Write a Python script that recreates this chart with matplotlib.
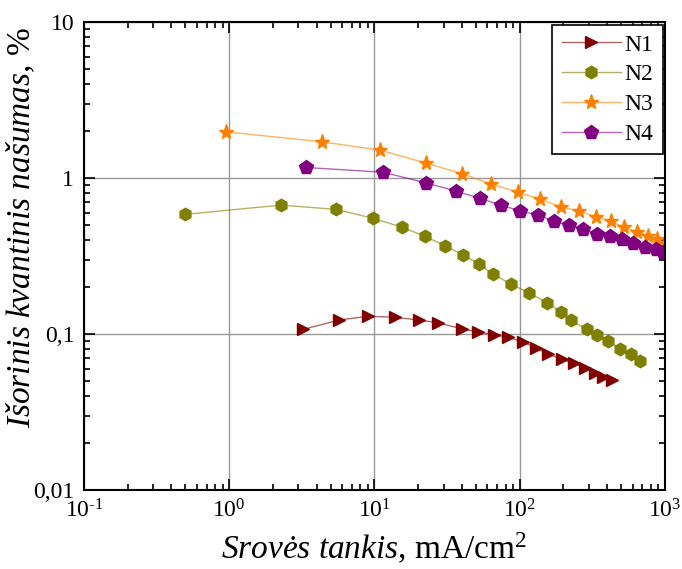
import matplotlib

matplotlib.use("Agg")
import matplotlib.pyplot as plt
from matplotlib.ticker import FixedLocator, FixedFormatter, LogLocator, NullFormatter

plt.rcParams["font.family"] = ["Liberation Serif", "DejaVu Serif"]
plt.rcParams["mathtext.fontset"] = "custom"
plt.rcParams["mathtext.rm"] = "Liberation Serif"
plt.rcParams["mathtext.it"] = "Liberation Serif:italic"

# current density, mA/cm2, and external quantum efficiency, %
n1_j = [3.23, 5.72, 9.06, 13.8, 20.3, 27.5, 39.8, 51.8, 66.8, 83.4, 105, 129, 157, 195, 236, 281, 330, 376, 430]
n1_eqe = [0.107, 0.123, 0.130, 0.128, 0.123, 0.118, 0.108, 0.103, 0.099, 0.0953, 0.0889,
          0.0817, 0.0745, 0.0689, 0.0649, 0.0608, 0.0565, 0.0532, 0.0507]

n2_j = [0.495, 2.27, 5.43, 9.82, 15.4, 22.3, 30.7, 40.8, 52.6, 65.8, 86.6, 116, 155, 191,
        225, 289, 342, 407, 490, 580, 673]
n2_eqe = [0.585, 0.671, 0.630, 0.552, 0.485, 0.423, 0.368, 0.322, 0.281, 0.241, 0.210,
          0.183, 0.159, 0.139, 0.123, 0.107, 0.098, 0.0906, 0.0805, 0.0745, 0.0668]

n3_j = [0.95, 4.33, 11.0, 22.5, 39.8, 63.4, 96.8, 138, 191, 257, 335, 423, 522, 644, 760, 885, 1000]
n3_eqe = [1.98, 1.71, 1.51, 1.25, 1.07, 0.916, 0.813, 0.733, 0.655, 0.614, 0.565, 0.530,
          0.483, 0.453, 0.427, 0.405, 0.381]

n4_j = [3.36, 11.5, 22.5, 36.2, 53.2, 74.3, 100, 133, 173, 218, 274, 342, 418, 508, 605, 728, 863, 973]
n4_eqe = [1.17, 1.09, 0.933, 0.826, 0.741, 0.671, 0.617, 0.579, 0.530, 0.497, 0.473,
          0.438, 0.425, 0.407, 0.385, 0.363, 0.349, 0.336]

x_ticks = [0.1, 1, 10, 100, 1000]
x_ticklabels = [r"10$^{\text{-1}}$", r"10$^{\text{0}}$", r"10$^{\text{1}}$", r"10$^{\text{2}}$", r"10$^{\text{3}}$"]
y_ticks = [0.01, 0.1, 1, 10]
y_ticklabels = ["0,01", "0,1", "1", "10"]

series = [
    ("N1", n1_j, n1_eqe, (0.5, 0.0, 0.0), ">", 9),
    ("N2", n2_j, n2_eqe, (0.5, 0.5, 0.0), "h", 9),
    ("N3", n3_j, n3_eqe, (1.0, 0.5, 0.0), "*", 11),
    ("N4", n4_j, n4_eqe, (0.5, 0.0, 0.5), "p", 10),
]

fig = plt.figure(figsize=(6.82, 5.69), dpi=100)
ax = fig.add_axes([0.123, 0.139, 0.852, 0.822])

for name, x, y, c, m, ms in series:
    # faint connecting line, solid markers
    ax.plot(x, y, color=c + (0.6,), linewidth=1.0, marker=m, markersize=ms,
            markerfacecolor=c, markeredgecolor=c, label=name)

ax.set_xscale("log")
ax.set_yscale("log")
ax.set_xlim(0.1, 1000)
ax.set_ylim(0.01, 10)

ax.xaxis.set_major_locator(FixedLocator(x_ticks))
ax.xaxis.set_major_formatter(FixedFormatter(x_ticklabels))
ax.yaxis.set_major_locator(FixedLocator(y_ticks))
ax.yaxis.set_major_formatter(FixedFormatter(y_ticklabels))
for axis in (ax.xaxis, ax.yaxis):
    axis.set_minor_locator(LogLocator(base=10, subs=range(2, 10), numticks=20))
    axis.set_minor_formatter(NullFormatter())

ax.tick_params(which="both", direction="in", top=True, right=True, labelsize=17, width=1.2)
ax.tick_params(which="major", length=8, pad=7)
ax.tick_params(which="minor", length=4.5)
ax.grid(True, which="major", color="#999999", linewidth=1.0)
for s in ax.spines.values():
    s.set_linewidth(1.5)

ax.set_xlabel(r"$\mathit{Srovės\ tankis}$, mA/cm$^2$", fontsize=24, labelpad=6)
ax.set_ylabel(r"$\mathit{Išorinis\ kvantinis\ našumas}$, %", fontsize=24)
ax.yaxis.set_label_coords(-0.08, 0.56)

leg = ax.legend(loc="upper right", fontsize=17, frameon=True, fancybox=False,
                edgecolor="black", framealpha=1, handlelength=2.5, handletextpad=0.15,
                labelspacing=0.35, borderpad=0.4, borderaxespad=0.1)
leg.get_frame().set_linewidth(1.2)

fig.savefig("out.png", dpi=100)
